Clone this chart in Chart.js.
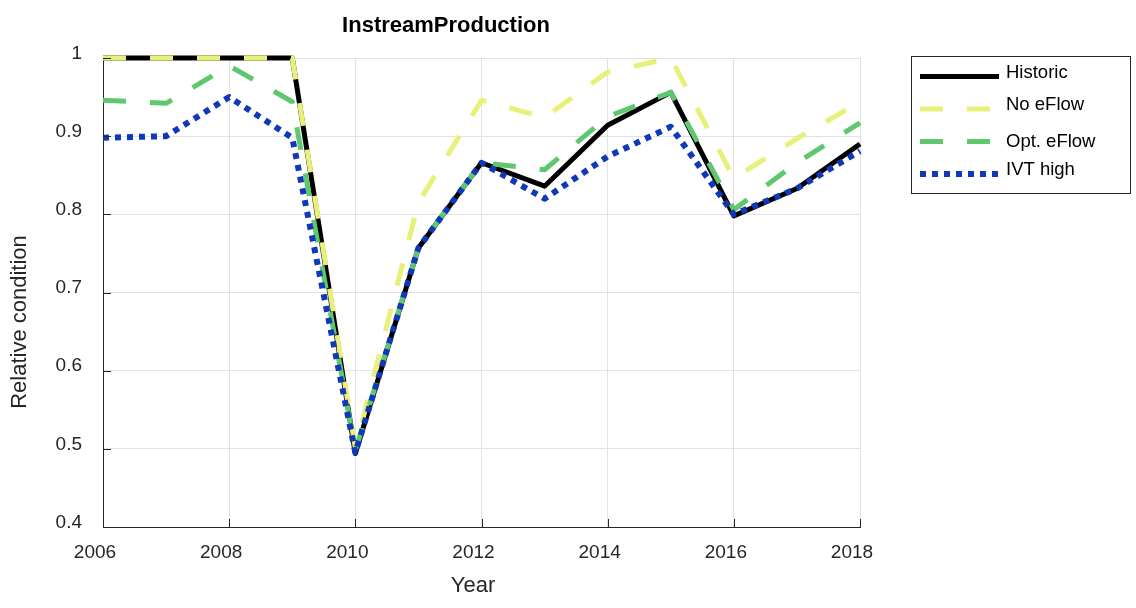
<!DOCTYPE html>
<html>
<head>
<meta charset="utf-8">
<script src="https://cdn.jsdelivr.net/npm/chart.js@4.4.0/dist/chart.umd.min.js"></script>
<style>
    html, body { margin: 0; padding: 0; background: #fff; }
    #chart { display: block; }
</style>
</head>
<body>
<canvas id="chart" width="1136" height="608"></canvas>
<script>
// Data
const years = [2006, 2007, 2008, 2009, 2010, 2011, 2012, 2013, 2014, 2015, 2016, 2017, 2018];
const historic = [1, 1, 1, 1, 0.494, 0.757, 0.866, 0.836, 0.914, 0.956, 0.798, 0.833, 0.890];
const noEflow = [1, 1, 1, 1, 0.501, 0.815, 0.946, 0.924, 0.982, 1.0, 0.846, 0.897, 0.944];
const optEflow = [0.946, 0.942, 0.990, 0.944, 0.498, 0.757, 0.866, 0.857, 0.925, 0.956, 0.806, 0.866, 0.917];
const ivtHigh = [0.898, 0.900, 0.950, 0.898, 0.495, 0.757, 0.866, 0.820, 0.874, 0.912, 0.800, 0.833, 0.881];

const seriesNames = ['Historic', 'No eFlow', 'Opt. eFlow', 'IVT high'];
const xTicks = [2006, 2008, 2010, 2012, 2014, 2016, 2018];
const xTickLabels = ['2006', '2008', '2010', '2012', '2014', '2016', '2018'];
const yTicks = [0.4, 0.5, 0.6, 0.7, 0.8, 0.9, 1.0];
const yTickLabels = ['0.4', '0.5', '0.6', '0.7', '0.8', '0.9', '1'];

const FONT = "'Liberation Sans', Arial, Helvetica, sans-serif";
const AXIS_COLOR = '#262626';

function toPoints(values) {
    return years.map((yr, i) => ({ x: yr, y: values[i] }));
}

// Titles and axis labels
const textPlugin = {
    id: 'texts',
    afterDraw(chart) {
        const ctx = chart.ctx;
        ctx.save();
        ctx.fillStyle = '#000';
        ctx.textAlign = 'center';
        ctx.textBaseline = 'middle';
        ctx.font = 'bold 22px ' + FONT;
        ctx.fillText('InstreamProduction', 446, 26);
        ctx.fillStyle = AXIS_COLOR;
        ctx.font = '22px ' + FONT;
        ctx.fillText('Year', 473, 586);
        ctx.translate(20, 322);
        ctx.rotate(-Math.PI / 2);
        ctx.fillText('Relative condition', 0, 0);
        ctx.restore();
    }
};

// Inward tick marks, MATLAB style
const innerTicks = {
    id: 'innerTicks',
    afterDraw(chart) {
        const ctx = chart.ctx;
        const area = chart.chartArea;
        const xs = chart.scales.x, ys = chart.scales.y;
        ctx.save();
        ctx.strokeStyle = AXIS_COLOR;
        ctx.lineWidth = 1;
        ctx.beginPath();
        xTicks.forEach(v => {
            const px = Math.round(xs.getPixelForValue(v)) + 0.5;
            ctx.moveTo(px, area.bottom);
            ctx.lineTo(px, area.bottom - 8);
        });
        yTicks.forEach(v => {
            const py = Math.round(ys.getPixelForValue(v)) + 0.5;
            ctx.moveTo(area.left, py);
            ctx.lineTo(area.left + 8, py);
        });
        ctx.stroke();
        ctx.restore();
    }
};

// Boxed legend on the right
const boxLegend = {
    id: 'boxLegend',
    afterDraw(chart) {
        const ctx = chart.ctx;
        const lineRows = [76.5, 109, 141.5, 174];
        const textRows = [72.5, 105, 142, 170];
        ctx.save();
        ctx.strokeStyle = AXIS_COLOR;
        ctx.lineWidth = 1;
        ctx.strokeRect(911.5, 56.5, 219, 137);
        chart.data.datasets.forEach((ds, i) => {
            ctx.beginPath();
            ctx.strokeStyle = ds.borderColor;
            ctx.lineWidth = ds.borderWidth;
            ctx.setLineDash(ds.borderDash || []);
            ctx.lineCap = 'butt';
            ctx.moveTo(920, lineRows[i]);
            ctx.lineTo(999, lineRows[i]);
            ctx.stroke();
            ctx.setLineDash([]);
            ctx.fillStyle = '#000';
            ctx.font = '18.5px ' + FONT;
            ctx.textAlign = 'left';
            ctx.textBaseline = 'middle';
            ctx.fillText(ds.label, 1006, textRows[i]);
        });
        ctx.restore();
    }
};

const lineDefaults = {
    pointRadius: 0,
    tension: 0,
    fill: false,
    clip: false,
    borderCapStyle: 'butt',
    borderJoinStyle: 'round'
};

new Chart(document.getElementById('chart'), {
    type: 'line',
    data: {
        datasets: [
            Object.assign({}, lineDefaults, {
                label: seriesNames[0], data: toPoints(historic),
                borderColor: '#000000', borderWidth: 5, order: 4
            }),
            Object.assign({}, lineDefaults, {
                label: seriesNames[1], data: toPoints(noEflow),
                borderColor: '#e8f07a', borderWidth: 5, borderDash: [23, 24], order: 3
            }),
            Object.assign({}, lineDefaults, {
                label: seriesNames[2], data: toPoints(optEflow),
                borderColor: '#5fc86e', borderWidth: 5, borderDash: [23, 24], order: 2
            }),
            Object.assign({}, lineDefaults, {
                label: seriesNames[3], data: toPoints(ivtHigh),
                borderColor: '#1038b8', borderWidth: 6, borderDash: [6, 6], order: 1
            })
        ]
    },
    options: {
        responsive: false,
        animation: false,
        layout: { padding: { left: 0, top: 58, right: 276, bottom: 0 } },
        plugins: {
            legend: { display: false },
            title: { display: false },
            tooltip: { enabled: false }
        },
        scales: {
            x: {
                type: 'linear',
                min: 2006,
                max: 2018,
                afterBuildTicks: scale => { scale.ticks = xTicks.map(v => ({ value: v })); },
                afterFit: scale => { scale.height = 81; },
                grid: { color: '#e2e2e2', drawTicks: false },
                border: { color: AXIS_COLOR, width: 1 },
                ticks: {
                    autoSkip: false,
                    maxRotation: 0,
                    padding: 14,
                    labelOffset: -8,
                    color: AXIS_COLOR,
                    font: { family: FONT, size: 19 },
                    callback: (v, i) => xTickLabels[i]
                }
            },
            y: {
                min: 0.4,
                max: 1.0,
                afterBuildTicks: scale => { scale.ticks = yTicks.map(v => ({ value: v })); },
                afterFit: scale => { scale.width = 103; },
                grid: { color: '#e2e2e2', drawTicks: false },
                border: { color: AXIS_COLOR, width: 1 },
                ticks: {
                    padding: 21,
                    labelOffset: -4.5,
                    color: AXIS_COLOR,
                    font: { family: FONT, size: 19 },
                    callback: (v, i) => yTickLabels[i]
                }
            }
        }
    },
    plugins: [textPlugin, innerTicks, boxLegend]
});
</script>
</body>
</html>
